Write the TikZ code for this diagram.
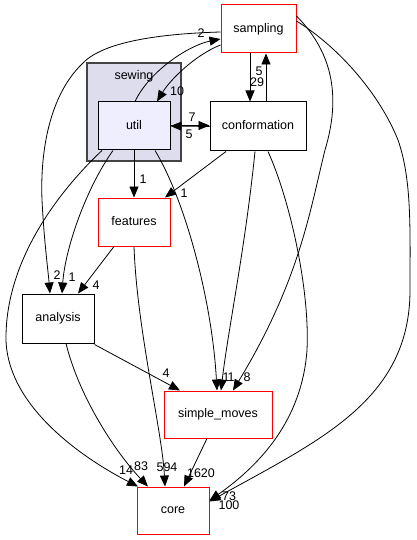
\documentclass[tikz,border=0pt]{standalone}
\usepackage{fontspec}
\setmainfont{Liberation Sans}
\usetikzlibrary{arrows.meta}
\definecolor{clfill}{HTML}{DDDDEE}
\definecolor{clborder}{HTML}{444444}
\definecolor{utilfill}{HTML}{EEEEFF}
\begin{document}
\begin{tikzpicture}[x=1pt,y=-1pt,
  font=\fontsize{12.5}{14}\selectfont,
  dirbox/.style={draw=black, line width=1pt, fill=white, inner sep=0pt, text height=9pt, text depth=2.5pt},
  redbox/.style={dirbox, draw=red},
  edge/.style={draw=black, line width=0.8pt, -{Triangle[length=11pt,width=9pt]}},
  lbl/.style={inner sep=0pt}]
\useasboundingbox (0,0) rectangle (416,540);
% cluster
\node[draw=clborder, fill=clfill, line width=1.4pt, minimum width=94pt, minimum height=98pt, inner sep=0pt] (sewing) at (134,112) {};
\node[lbl] (sewinglbl) at (134,76) {sewing};
% nodes
\node[redbox, minimum width=75pt, minimum height=48pt] (sampling) at (258.5,29) {sampling};
\node[dirbox, fill=utilfill, minimum width=72pt, minimum height=48pt] (util) at (134,126) {util};
\node[dirbox, minimum width=96pt, minimum height=49pt] (conf) at (258,126.5) {conformation};
\node[redbox, minimum width=72pt, minimum height=48pt] (features) at (134,222) {features};
\node[dirbox, minimum width=72pt, minimum height=49pt] (analysis) at (58,318.5) {analysis};
\node[redbox, minimum width=108pt, minimum height=47pt] (simple) at (218,414.5) {simple\_moves};
\node[redbox, minimum width=72pt, minimum height=47pt] (core) at (173,510.5) {core};
% edges
\draw[edge] ([xshift=1pt]util.north) .. controls (150,70) and (190,45) .. ([yshift=-10pt]sampling.west);
\node[lbl] (l1) at (201,33) {2};
\draw[edge] ([yshift=-16pt]sampling.west) .. controls (195,55) and (170,80) .. ([xshift=23pt]util.north);
\node[lbl] (l2) at (177,91) {10};
\draw[edge] ([xshift=-8.5pt]sampling.south) -- ([xshift=-8pt]conf.north);
\node[lbl] (l3) at (257,82) {29};
\draw[edge] ([xshift=8pt]conf.north) -- ([xshift=7.5pt]sampling.south);
\node[lbl] (l4) at (259,71) {5};
\draw[edge] ([yshift=0.5pt]util.east) -- ([yshift=1pt]conf.west);
\node[lbl] (l5) at (192,117) {7};
\draw[edge] ([yshift=0pt]conf.west) -- ([yshift=0pt]util.east);
\node[lbl] (l6) at (189,134) {5};
\draw[edge] (util.south) -- (features.north);
\node[lbl] (l7) at (143,179) {1};
\draw[edge] ([xshift=-32pt]conf.south) -- ([xshift=31pt]features.north);
\node[lbl] (l8) at (184,193) {1};
\draw[edge] ([xshift=-21pt]util.south) .. controls (85,190) and (65,250) .. ([xshift=4pt]analysis.north);
\node[lbl] (l9) at (72,277) {1};
\draw[edge] ([yshift=-3pt]sampling.west) .. controls (150,34) and (100,44) .. (82,64) .. controls (50,95) and (40,150) .. (42,200) .. controls (44,240) and (48,270) .. ([xshift=-8pt]analysis.north);
\node[lbl] (l10) at (57,275) {2};
\draw[edge] ([xshift=-32pt]util.south) .. controls (60,190) and (5,260) .. (6,340) .. controls (8,410) and (90,462) .. ([xshift=-35pt]core.north);
\node[lbl] (l11) at (126,470) {14};
\draw[edge] ([xshift=21pt]util.south) .. controls (185,200) and (212,300) .. ([xshift=-1pt]simple.north);
\node[lbl] (l12) at (226,377) {1};
\draw[edge] ([xshift=-3pt]conf.south) .. controls (245,250) and (228,330) .. ([xshift=3pt]simple.north);
\node[lbl] (l13) at (231,377) {1};
\draw[edge] ([yshift=13pt]sampling.east) .. controls (335,55) and (340,100) .. (325,150) .. controls (310,210) and (300,280) .. ([xshift=15pt]simple.north);
\node[lbl] (l14) at (247,377) {8};
\draw[edge] ([xshift=-20pt]features.south) -- ([xshift=20pt]analysis.north);
\node[lbl] (l15) at (96,285) {4};
\draw[edge] (features.south) .. controls (137,330) and (162,430) .. ([xshift=-8pt]core.north);
\node[lbl] (l16) at (167,467) {594};
\draw[edge] ([yshift=-1pt]analysis.south east) -- ([xshift=-38pt]simple.north);
\node[lbl] (l17) at (166,373) {4};
\draw[edge] ([xshift=8pt]analysis.south) .. controls (80,400) and (118,455) .. ([xshift=-25pt]core.north);
\node[lbl] (l18) at (141,466) {83};
\draw[edge] ([xshift=-11pt]simple.south) -- ([xshift=11pt]core.north);
\node[lbl] (l19) at (201,473) {1620};
\draw[edge] ([xshift=10pt]conf.south) .. controls (290,200) and (310,290) .. (307,350) .. controls (302,420) and (260,465) .. ([yshift=10pt]core.east);
\node[lbl] (l20) at (229,496) {73};
\draw[edge] ([yshift=8pt]sampling.east) .. controls (340,48) and (380,95) .. (398,140) .. controls (412,180) and (410,230) .. (410,290) .. controls (410,400) and (320,440) .. ([yshift=9pt]core.east);
\node[lbl] (l21) at (229,505) {100};
\end{tikzpicture}
\end{document}
